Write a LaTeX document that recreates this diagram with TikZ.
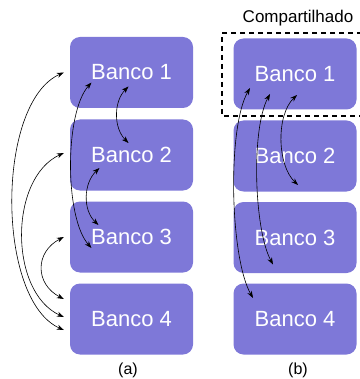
\documentclass[tikz,border=0pt]{standalone}
\usepackage{fontspec}
\setmainfont{Liberation Sans}
\usetikzlibrary{arrows.meta}
\definecolor{bancofill}{RGB}{126,120,216}
\tikzset{
  banco/.style={rectangle,rounded corners=10pt,fill=bancofill,
                minimum width=123pt,minimum height=71pt,
                text=white,font=\fontsize{22}{25}\selectfont},
  seta/.style={{Stealth[length=7pt,width=5pt]}-{Stealth[length=7pt,width=5pt]},line width=0.6pt,black},
}
\begin{document}
\begin{tikzpicture}[x=1pt,y=-1pt]
  \useasboundingbox (0,0) rectangle (359,379);

  % coluna (a)
  \node[banco] (a1) at (131.5,72.5) {Banco 1};
  \node[banco] (a2) at (131.5,155)  {Banco 2};
  \node[banco] (a3) at (131.5,237)  {Banco 3};
  \node[banco] (a4) at (131.5,319)  {Banco 4};

  % coluna (b)
  \node[banco] (b1) at (295,74)    {Banco 1};
  \node[banco] (b2) at (295,156)   {Banco 2};
  \node[banco] (b3) at (295,237.5) {Banco 3};
  \node[banco] (b4) at (295,319)   {Banco 4};

  % regiao compartilhada
  \draw[dashed,line width=1.2pt,dash pattern=on 5pt off 4pt]
    (362,33) -- (222,33) -- (222,116) -- (362,116);
  \node[font=\fontsize{17}{20}\selectfont] (comp) at (298,18) {Compartilhado};

  \node[font=\fontsize{16}{19}\selectfont] (la) at (128,370) {(a)};
  \node[font=\fontsize{16}{19}\selectfont] (lb) at (298,370) {(b)};

  % conexoes (a)
  \draw[seta] ([xshift=-6pt]a1.west) .. controls +(-68,30) and +(-68,-30) .. ([xshift=-6pt,yshift=-11pt]a4.west);
  \draw[seta] ([xshift=-6pt,yshift=2pt]a2.west) .. controls +(-55,25) and +(-55,-25) .. ([xshift=-6pt,yshift=2pt]a4.west);
  \draw[seta] ([xshift=-6pt]a3.west) .. controls +(-29,15) and +(-29,-15) .. ([xshift=-6pt,yshift=20pt]a4.west);
  \draw[seta] ([xshift=-40pt,yshift=-10pt]a1.center) .. controls +(-27,30) and +(-27,-30) .. ([xshift=-40pt,yshift=-11pt]a3.center);
  \draw[seta] ([xshift=-3pt,yshift=-14pt]a1.center) .. controls +(-15,15) and +(-15,-15) .. ([xshift=-3pt,yshift=12pt]a2.center);
  \draw[seta] ([xshift=-32pt,yshift=-13pt]a2.center) .. controls +(-16,15) and +(-16,-15) .. ([xshift=-33pt,yshift=12pt]a3.center);

  % conexoes (b)
  \draw[seta] ([xshift=-45pt,yshift=-14pt]b1.center) .. controls +(-23,40) and +(-23,-40) .. ([xshift=-42pt,yshift=21pt]b4.center);
  \draw[seta] ([xshift=-25pt,yshift=-20pt]b1.center) .. controls +(-19,35) and +(-19,-35) .. ([xshift=-22pt,yshift=-27pt]b3.center);
  \draw[seta] ([xshift=2pt,yshift=-21pt]b1.center) .. controls +(-21,20) and +(-21,-20) .. ([xshift=3pt,yshift=-29pt]b2.center);
\end{tikzpicture}
\end{document}
